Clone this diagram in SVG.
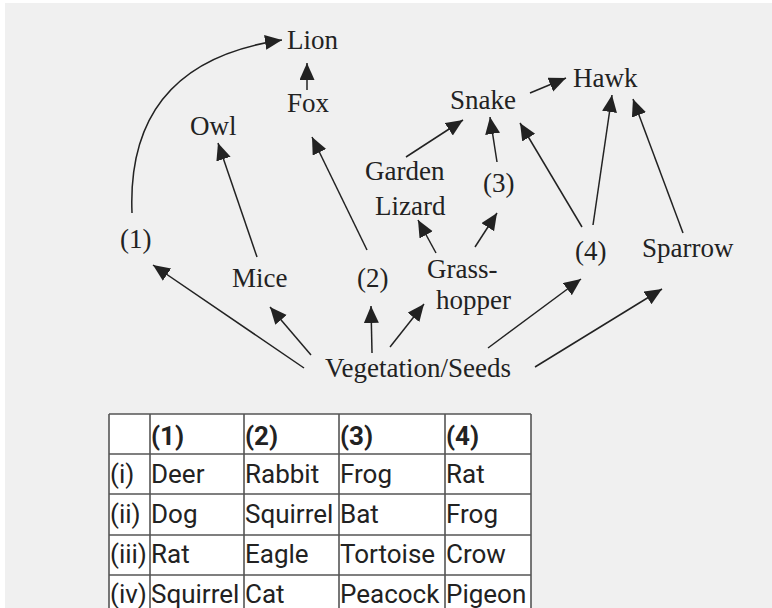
<svg xmlns="http://www.w3.org/2000/svg" width="772" height="608" viewBox="0 0 772 608">
  <style>
    .lbl { font-family: "Liberation Serif", "Times New Roman", serif; font-size: 27px; fill: #222; }
    .edge { fill: none; stroke: #222; stroke-width: 1.5; marker-end: url(#head); }
    .tt { font-family: Roboto, "Liberation Sans", sans-serif; font-size: 26px; fill: #222; }
    .th { font-weight: bold; }
  </style>
  <defs>
    <marker id="head" markerUnits="userSpaceOnUse" markerWidth="18" markerHeight="16" refX="17" refY="7.5" orient="auto">
      <path d="M0,0 L17,7.5 L0,15 z" fill="#222"/>
    </marker>
  </defs>

  <rect x="0" y="0" width="772" height="608" fill="#fff"/>
  <rect x="5" y="3" width="767" height="605" fill="#f0f0f0"/>

  <!-- feeding links -->
  <g id="connectors">
    <path class="edge" d="M132,213 C128,112 178,55 282,40"/>
    <path class="edge" d="M307,90 L307,63"/>
    <path class="edge" d="M257,257 L218,143"/>
    <path class="edge" d="M367,250 L312,137"/>
    <path class="edge" d="M406,157 L463,120"/>
    <path class="edge" d="M497,162 L490,117"/>
    <path class="edge" d="M530,93 L566,78"/>
    <path class="edge" d="M582,227 L520,123"/>
    <path class="edge" d="M593,225 L612,95"/>
    <path class="edge" d="M683,233 L633,99"/>
    <path class="edge" d="M436,253 L418,220"/>
    <path class="edge" d="M475,247 L497,213"/>
    <path class="edge" d="M304,368 L153,265"/>
    <path class="edge" d="M311,355 L270,307"/>
    <path class="edge" d="M372,353 L371,306"/>
    <path class="edge" d="M390,347 L424,304"/>
    <path class="edge" d="M488,348 L581,279"/>
    <path class="edge" d="M535,367 L662,289"/>
  </g>

  <g id="lion"><text class="lbl" x="287" y="49">Lion</text></g>
  <g id="fox"><text class="lbl" x="287" y="112">Fox</text></g>
  <g id="owl"><text class="lbl" x="190" y="135">Owl</text></g>
  <g id="snake"><text class="lbl" x="450" y="109">Snake</text></g>
  <g id="hawk"><text class="lbl" x="573" y="87">Hawk</text></g>
  <g id="garden-lizard">
    <text class="lbl" x="365" y="180">Garden</text>
    <text class="lbl" x="375" y="215">Lizard</text>
  </g>
  <g id="n3"><text class="lbl" x="483" y="192">(3)</text></g>
  <g id="n1"><text class="lbl" x="120" y="248">(1)</text></g>
  <g id="mice"><text class="lbl" x="232" y="287">Mice</text></g>
  <g id="n2"><text class="lbl" x="357" y="287">(2)</text></g>
  <g id="grasshopper">
    <text class="lbl" x="427" y="278">Grass-</text>
    <text class="lbl" x="436" y="309">hopper</text>
  </g>
  <g id="n4"><text class="lbl" x="575" y="260">(4)</text></g>
  <g id="sparrow"><text class="lbl" x="642" y="257">Sparrow</text></g>
  <g id="vegetation"><text class="lbl" x="325" y="377">Vegetation/Seeds</text></g>

  <!-- options table -->
  <g id="table">
    <rect x="109" y="414" width="422" height="210" fill="#fff"/>
    <g fill="none" stroke="#555" stroke-width="1.6">
      <line x1="109" y1="414" x2="531" y2="414"/>
      <line x1="109" y1="454" x2="531" y2="454"/>
      <line x1="109" y1="494" x2="531" y2="494"/>
      <line x1="109" y1="535" x2="531" y2="535"/>
      <line x1="109" y1="575" x2="531" y2="575"/>
      <line x1="109" y1="414" x2="109" y2="608"/>
      <line x1="150" y1="414" x2="150" y2="608"/>
      <line x1="244" y1="414" x2="244" y2="608"/>
      <line x1="339" y1="414" x2="339" y2="608"/>
      <line x1="445" y1="414" x2="445" y2="608"/>
      <line x1="531" y1="414" x2="531" y2="608"/>
    </g>
    <g class="tt th">
      <text x="151" y="445">(1)</text>
      <text x="245" y="445">(2)</text>
      <text x="340" y="445">(3)</text>
      <text x="446" y="445">(4)</text>
    </g>
    <g class="tt">
      <text x="110" y="483">(i)</text>
      <text x="151" y="483">Deer</text>
      <text x="245" y="483">Rabbit</text>
      <text x="340" y="483">Frog</text>
      <text x="446" y="483">Rat</text>
      <text x="110" y="523">(ii)</text>
      <text x="151" y="523">Dog</text>
      <text x="245" y="523">Squirrel</text>
      <text x="340" y="523">Bat</text>
      <text x="446" y="523">Frog</text>
      <text x="110" y="563">(iii)</text>
      <text x="151" y="563">Rat</text>
      <text x="245" y="563">Eagle</text>
      <text x="340" y="563">Tortoise</text>
      <text x="446" y="563">Crow</text>
      <text x="110" y="603">(iv)</text>
      <text x="151" y="603">Squirrel</text>
      <text x="245" y="603">Cat</text>
      <text x="340" y="603">Peacock</text>
      <text x="446" y="603">Pigeon</text>
    </g>
  </g>
</svg>
